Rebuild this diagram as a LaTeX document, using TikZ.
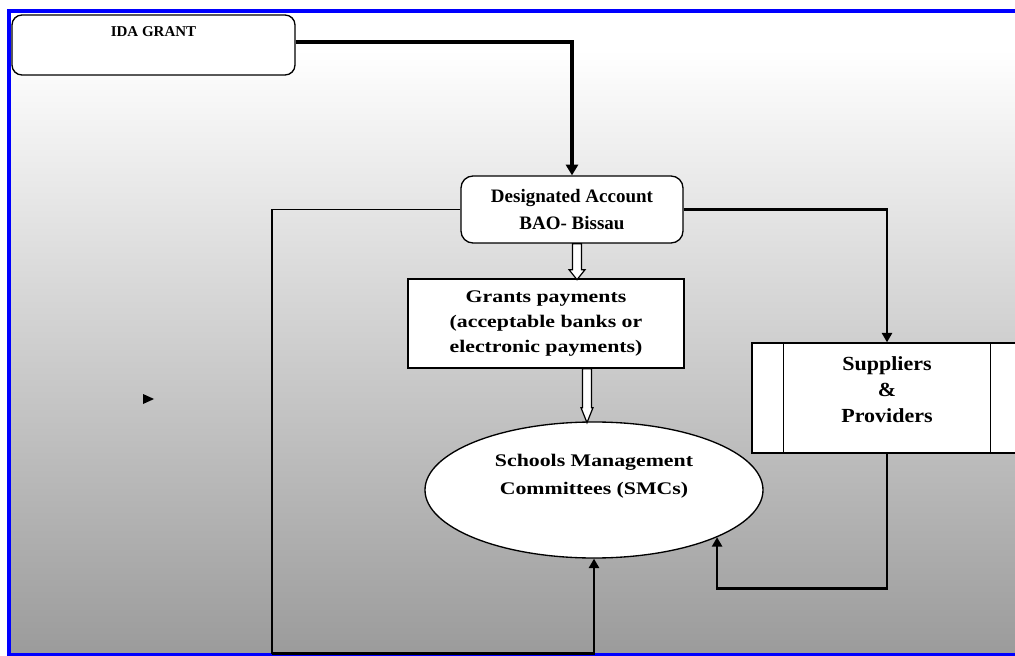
\documentclass[tikz,border=0pt]{standalone}
\usepackage{fontspec}
\setmainfont{Liberation Serif}
\newfontfamily\tmsN{Liberation Serif}
\newfontfamily\tmsM[FakeStretch=1.1]{Liberation Serif}
\newfontfamily\tmsW[FakeStretch=1.23]{Liberation Serif}
\usetikzlibrary{arrows.meta,shapes.geometric,calc}
\definecolor{bggray}{RGB}{155,155,155}
\definecolor{frameblue}{RGB}{0,0,255}
\def\pxu{0.75pt}
\begin{document}
\begin{tikzpicture}[x=0.75pt,y=-0.75pt,
  box/.style={draw=black,line width=1pt,fill=white,inner sep=0pt,align=center},
  thinconn/.style={draw=black,line width=1pt},
  conn/.style={draw=black,line width=1.8pt},
  thickconn/.style={draw=black,line width=3pt},
  tip/.style={-{Triangle[width=7.5pt,length=7pt]}},
  bigtip/.style={-{Triangle[width=9pt,length=8pt]}},
  hollow/.style={draw=black,line width=0.9pt,fill=white,line join=miter},
]
\useasboundingbox (0,0) rectangle (1015,656);
% background
\fill[white] (0,0) rectangle (1015,656);
\fill[white] (9,11) rectangle (1015,50);
\shade[top color=white,bottom color=bggray] (9,50) rectangle (1015,655);
\draw[frameblue,line width=3pt] (1020,11) -- (9,11) -- (9,655) -- (1020,655);

% nodes
\node[box, rounded corners=7.5pt, minimum width=283*\pxu, minimum height=60*\pxu,
  label={[font=\tmsN\bfseries\fontsize{11.25}{13}\selectfont, anchor=center, yshift=-13pt]north:IDA GRANT}] (ida) at (153.5,45) {};
\node[box, rounded corners=9pt, minimum width=222*\pxu, minimum height=67*\pxu,
  font=\tmsN\bfseries\fontsize{14.25}{20}\selectfont] (da) at (572,209.5) {Designated Account\\BAO- Bissau};
\node[box, minimum width=276*\pxu, minimum height=89*\pxu,
  font=\tmsW\bfseries\fontsize{13.3}{19}\selectfont] (gp) at (546,323.5) {Grants payments\\(acceptable banks or\\electronic payments)};
\node[draw=black, line width=1pt, fill=white, ellipse, inner sep=0pt,
  minimum width=338*\pxu, minimum height=136*\pxu,
  label={[font=\tmsW\bfseries\fontsize{13.3}{21}\selectfont, align=center, anchor=center, yshift=10.5pt]center:{Schools Management\\Committees~(SMCs)}}] (smc) at (594,490) {};
\node[box, minimum width=270*\pxu, minimum height=110*\pxu,
  label={[font=\tmsM\bfseries\fontsize{15}{19.5}\selectfont, align=center, anchor=center, yshift=6pt]center:{Suppliers\\\&\\Providers}}] (sup) at (887,398) {};
\draw[line width=1pt] ($(sup.north west)+(32,0)$) -- ($(sup.south west)+(32,0)$);
\draw[line width=1pt] ($(sup.north east)+(-32,0)$) -- ($(sup.south east)+(-32,0)$);

% connectors
\draw[thickconn, bigtip] ($(ida.east)+(0,-3)$) -| (da.north);
\coordinate (bl) at ($(smc.south)+(-322,95)$);
\draw[thinconn] (da.west) -| (bl);
\draw[conn, tip] (bl) -| (smc.south);
\draw[conn, tip] (da.east) -| (sup.north);
\draw[conn, tip] (sup.south) -- ++(0,135) -| (smc.-21.8);

% hollow arrows
\draw[hollow] ($(da.south)+(0.5,0)$) -- ++(0,26) -- ++(-3.5,0) -- ++(8,10) -- ++(8,-10) -- ++(-3.5,0) -- ++(0,-26) -- cycle;
\draw[hollow] ($(gp.south)+(36.5,0)$) -- ++(0,39) -- ++(-1.5,0) -- ++(6,15) -- ++(6,-15) -- ++(-1.5,0) -- ++(0,-39) -- cycle;

% stray arrowhead
\fill[black] (143,394) -- (143,404) -- (154,399) -- cycle;
\end{tikzpicture}
\end{document}
